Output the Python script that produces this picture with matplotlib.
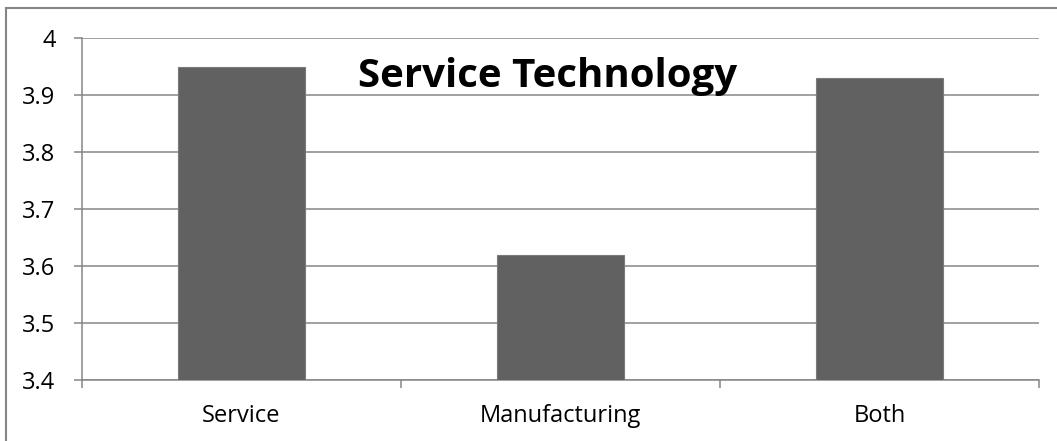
import matplotlib
matplotlib.use("Agg")
import matplotlib.pyplot as plt
from matplotlib.patches import Rectangle

categories = ["Service", "Manufacturing", "Both"]
values = [3.95, 3.62, 3.93]
y_ticks = [3.4, 3.5, 3.6, 3.7, 3.8, 3.9, 4.0]
y_tick_labels = ["3.4", "3.5", "3.6", "3.7", "3.8", "3.9", "4"]

W, H = 1057, 441
line_gray = "#868686"
plt.rcParams["font.family"] = ["Open Sans", "DejaVu Sans"]

fig = plt.figure(figsize=(W / 100, H / 100), dpi=100)
ax = fig.add_axes([82 / W, 1 - 380 / H, (1039 - 82) / W, (380 - 38) / H])

# chart area frame (only top and left edges fall inside the image)
fig.patches.append(Rectangle((6 / W, -0.5), 2.0, 1.5 - 8 / H, transform=fig.transFigure,
                             fill=False, edgecolor=line_gray, lw=1.5))

x = list(range(len(categories)))
ax.bar(x, values, width=0.4, color="#616161", edgecolor="#7a7a7a", lw=0.8, zorder=3)

ax.set_xlim(-0.5, len(categories) - 0.5)
ax.set_ylim(3.4, 4.0)
ax.set_yticks(y_ticks)
ax.set_yticklabels(y_tick_labels)
ax.set_xticks(x)
ax.set_xticklabels(categories)
ax.set_xticks([i - 0.5 for i in range(len(categories) + 1)], minor=True)

ax.grid(axis="y", color=line_gray, lw=1.1, zorder=0)
for side in ["top", "right"]:
    ax.spines[side].set_visible(False)
for side in ["left", "bottom"]:
    ax.spines[side].set_color(line_gray)
    ax.spines[side].set_linewidth(1.1)

ax.tick_params(axis="y", length=6, width=1.1, color=line_gray, pad=13, labelsize=17)
ax.tick_params(axis="x", which="major", length=0, pad=17, labelsize=17)
ax.tick_params(axis="x", which="minor", length=6, width=1.1, color=line_gray)

ax.text(0.486, 0.857, "Service Technology", transform=ax.transAxes, ha="center", va="baseline",
        fontsize=29, fontweight="bold")

fig.savefig("out.png", dpi=100, facecolor="white")
